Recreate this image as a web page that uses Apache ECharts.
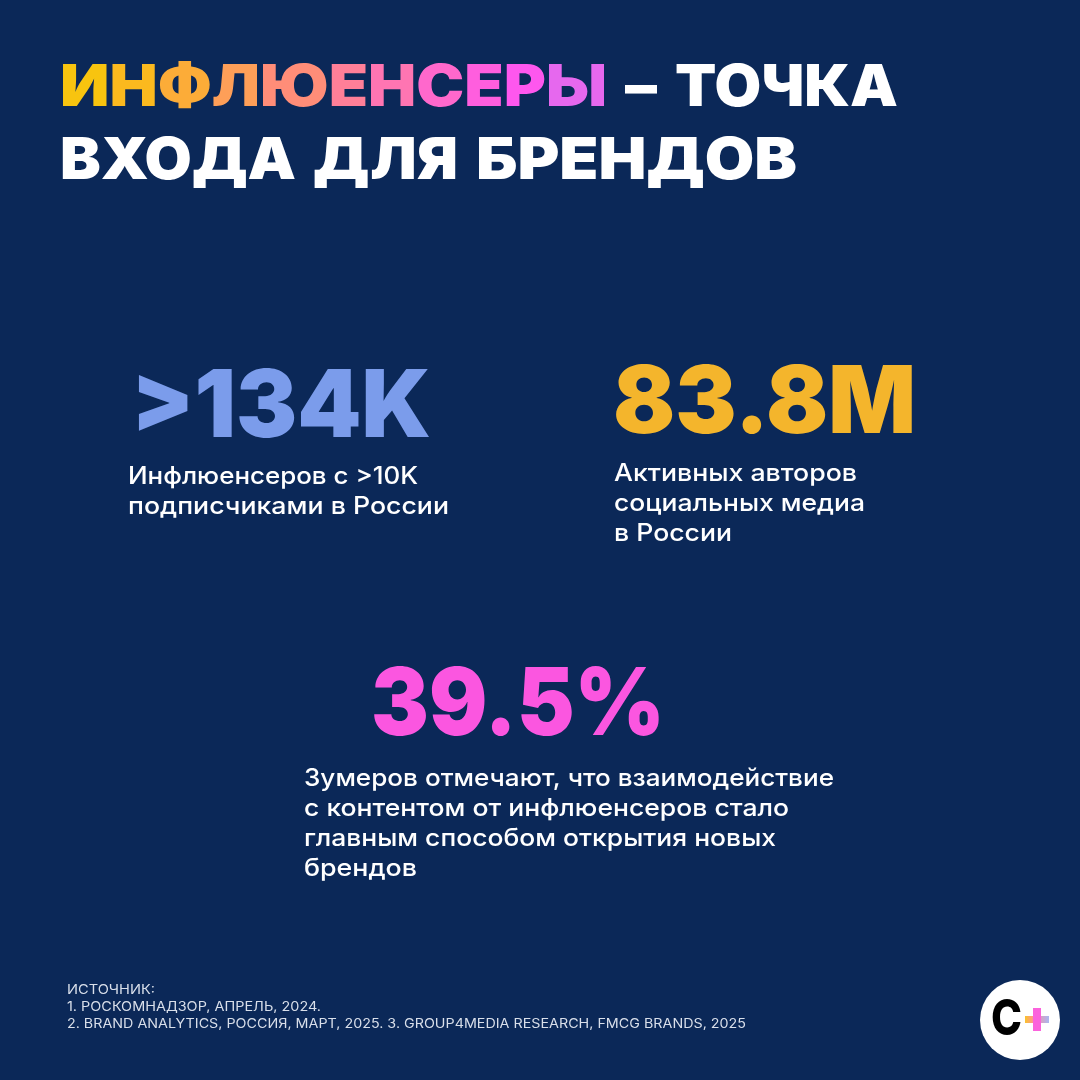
<!DOCTYPE html>
<html><head><meta charset="utf-8">
<style>html,body{margin:0;padding:0;background:#0B2858}#c{width:1080px;height:1080px}</style>
<script src="https://cdn.jsdelivr.net/npm/echarts@6/dist/echarts.min.js"></script>
</head><body><div id="c"></div>
<script>
const titleGradientWord = ['И','Н','Ф','Л','Ю','Е','Н','С','Е','Р','Ы'];
const titleGradientColors = ['#F8C40F','#FBB91E','#FCAC38','#FE9F58','#FF8D78','#FF7F98','#FF75B2','#FF68CC','#FF5EDE','#FE57EE','#E668EE'];
const titleRest = ['–','ТОЧКА'];
const titleLine2 = ['ВХОДА','ДЛЯ','БРЕНДОВ'];
const statValues = ['>134K','83.8M','39.5%'];
const statColors = ['#7B9CEB','#F4B52C','#FB56E0'];
const statNotes = [
  ['Инфлюенсеров с >10K','подписчиками в России'],
  ['Активных авторов','социальных медиа','в России'],
  ['Зумеров отмечают, что взаимодействие','с контентом от инфлюенсеров стало','главным способом открытия новых','брендов']
];
const sourceLines = ['ИСТОЧНИК:','1. РОСКОМНАДЗОР, АПРЕЛЬ, 2024.','2. BRAND ANALYTICS, РОССИЯ, МАРТ, 2025. 3. GROUP4MEDIA RESEARCH, FMCG BRANDS, 2025'];
const logoLetter = 'C';

const FF = 'Inter, "Noto Sans", sans-serif';
const mctx = document.createElement('canvas').getContext('2d');
function scaleFor(text, font, target){ mctx.font = font; return target / mctx.measureText(text).width; }
function txt(text, x, y, size, weight, fill, width){
  const font=`${weight} ${size}px ${FF}`;
  return {type:'text', x, y, scaleX:scaleFor(text,font,width), originX:0, originY:0,
    style:{text, x:0, y:0, fill, font, align:'left', verticalAlign:'middle'}};
}
const els = [];
// title
const tFont = `900 58px ${FF}`;
const rich = {}; let s = '';
titleGradientWord.forEach((ch,i)=>{ rich['g'+i]={fill:titleGradientColors[i],font:tFont}; s+=`{g${i}|${ch}}`; });
els.push({type:'text', x:60, y:89, scaleX:scaleFor(titleGradientWord.join(''),tFont,547), originX:0, originY:0,
  style:{text:s, x:0, y:0, rich, font:tFont, fill:'#fff', align:'left', verticalAlign:'middle'}});
const rest1=[[625,32],[675,223]];
titleRest.forEach((w,i)=>els.push(txt(w,rest1[i][0],89,58,900,'#fff',rest1[i][1])));
const rest2=[[60,236],[313,145],[476,321]];
titleLine2.forEach((w,i)=>els.push(txt(w,rest2[i][0],162,58,900,'#fff',rest2[i][1])));
// stats
const statPos = [[131,409,300],[613,405,303],[371,707,294]];
const notePos = [[128,477],[614,474],[304,779]];
const noteW = [[290,321],[243,251,118],[530,485,472,113]];
statValues.forEach((v,i)=>{
  els.push(txt(v,statPos[i][0],statPos[i][1],94,900,statColors[i],statPos[i][2]));
  statNotes[i].forEach((l,j)=>els.push(txt(l,notePos[i][0],notePos[i][1]+30*j,24,500,'#fff',noteW[i][j])));
});
// sources
const sourceY=[990,1007,1024];
const sourceW=[88,254,679];
sourceLines.forEach((l,i)=>els.push(txt(l,67,sourceY[i],13,400,'#D9DFEA',sourceW[i])));
// logo
els.push({type:'circle',shape:{cx:1020,cy:1020,r:40},style:{fill:'#fff'}});
els.push(txt(logoLetter,991,1020,50,800,'#000',31));
els.push({type:'rect',shape:{x:1025,y:1016,width:24,height:7},
  style:{fill:new echarts.graphic.LinearGradient(0,0,1,0,[{offset:0,color:'#F9C32A'},{offset:.4,color:'#FF8FA0'},{offset:1,color:'#A9B8F0'}])}});
els.push({type:'rect',shape:{x:1033,y:1008,width:8,height:23},style:{fill:'#FB62DC'}});

const chart = echarts.init(document.getElementById('c'),null,{renderer:'canvas',width:1080,height:1080});
chart.setOption({backgroundColor:'#0B2858',animation:false,graphic:{elements:els}});
</script></body></html>
